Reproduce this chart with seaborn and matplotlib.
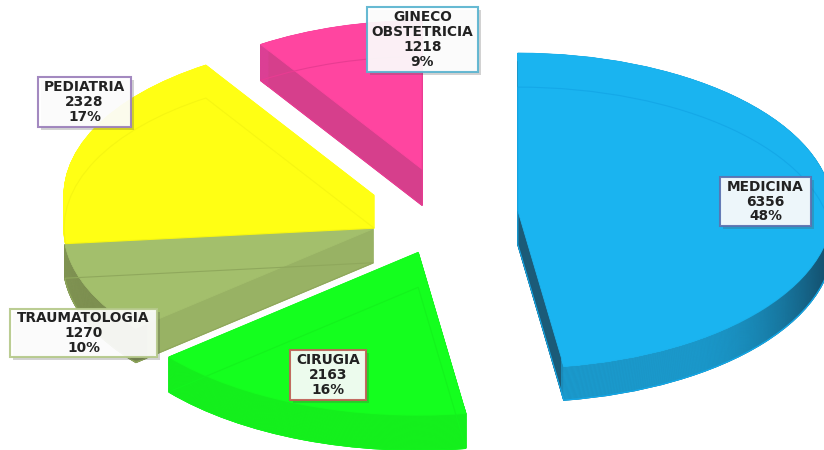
import numpy as np
import seaborn as sns
import matplotlib.pyplot as plt
from matplotlib.patches import Rectangle
from matplotlib.path import Path
from matplotlib.colors import to_rgb
import matplotlib.patheffects as pe

# data
areas = ["MEDICINA", "CIRUGIA", "TRAUMATOLOGIA", "PEDIATRIA", "GINECO\nOBSTETRICIA"]
cases = [6356, 2163, 1270, 2328, 1218]
shares = ["48%", "16%", "10%", "17%", "9%"]

# style
top_colors = ["#1ab4f0", "#14ff1e", "#a3bf6c", "#ffff14", "#ff45a0"]
cut_colors = ["#1b5b78", "#14e81c", "#98b264", "#ffff14", "#d63f8c"]
rim_colors = ["#1ab0ea", "#14f41d", "#73824a", "#ffff14", "#e0409a"]
line_colors = ["#14a8e8", "#13f41c", "#8fa85c", "#f6f612", "#e83c92"]
explode = [70, 84, 81, 82, 91]
radius_scale = [1.015, 1.05, 1.0, 1.0, 0.96]
depth = [34, 35, 34, 33, 36]

sns.set_theme(style="white")
plt.rcParams["font.family"] = ["DejaVu Sans"]

fig = plt.figure(figsize=(8.24, 4.5), dpi=100)
ax = fig.add_axes([0, 0, 1, 1])

cx = 448
cy = (450 - 213) * 2   # y axis runs at 2 units a pixel, that squashes the pie
radius = 310


def layer(shift, colors, width=None, fill=True, lw=1.0, z=1):
    props = {"linewidth": lw}
    if width is not None:
        props["width"] = width
    wedges, _ = ax.pie(cases, explode=explode, center=(cx, cy), radius=radius,
                       startangle=90, counterclock=False, colors=colors,
                       wedgeprops=props)
    for i, w in enumerate(wedges):
        w.set_radius(radius * radius_scale[i])
        w.set_center((w.center[0], w.center[1] - 2 * shift * depth[i] / 33))
        w.set_zorder(z)
        w.set_edgecolor(colors[i])
        if not fill:
            w.set_facecolor("none")
    return wedges


# side walls, stacked from the bottom up
med_paths = []
for k in np.arange(33, 0, -0.5):
    layer(k, cut_colors)
    rim = layer(k, rim_colors, width=14)
    med_paths.append(rim[0].get_path())

# the blue rim goes dark towards the right end
shade = np.zeros((1, 120, 4))
shade[..., :3] = to_rgb("#123f58")
shade[..., 3] = np.linspace(0, 1, 120) ** 2 * 0.75
img = ax.imshow(shade, extent=(690, 824, 0, 900), aspect="auto", zorder=1.5)
img.set_clip_path(Path.make_compound_path(*med_paths), ax.transData)

# top faces
layer(0, top_colors, lw=0.6, z=2)
# lower outline showing through the top
layer(33, line_colors, fill=False, lw=0.8, z=3)

# labels
boxes = [
    (720, 177, 91, 49, "#5b72b0"),
    (290, 350, 76, 50, "#bf5f55"),
    (10, 309, 147, 48, "#b5c98a"),
    (38, 77, 93, 50, "#9b7fbb"),
    (367, 7, 111, 65, "#5ab4d0"),
]
for i, (x, y, w, h, c) in enumerate(boxes):
    rect = Rectangle((x, (450 - y - h) * 2), w, h * 2, facecolor="white", alpha=0.92,
                     edgecolor=c, linewidth=1.5, zorder=20)
    rect.set_path_effects([pe.SimplePatchShadow(offset=(2, -2), alpha=0.25), pe.Normal()])
    ax.add_patch(rect)
    ax.text(x + w / 2, (450 - y - h / 2) * 2, f"{areas[i]}\n{cases[i]}\n{shares[i]}",
            ha="center", va="center", fontsize=9.9, fontweight="bold", color="#222222",
            linespacing=1.08, zorder=21)

ax.set_aspect("auto")
ax.set_xlim(0, 824)
ax.set_ylim(0, 900)
ax.axis("off")
fig.savefig("out.png", dpi=100)
